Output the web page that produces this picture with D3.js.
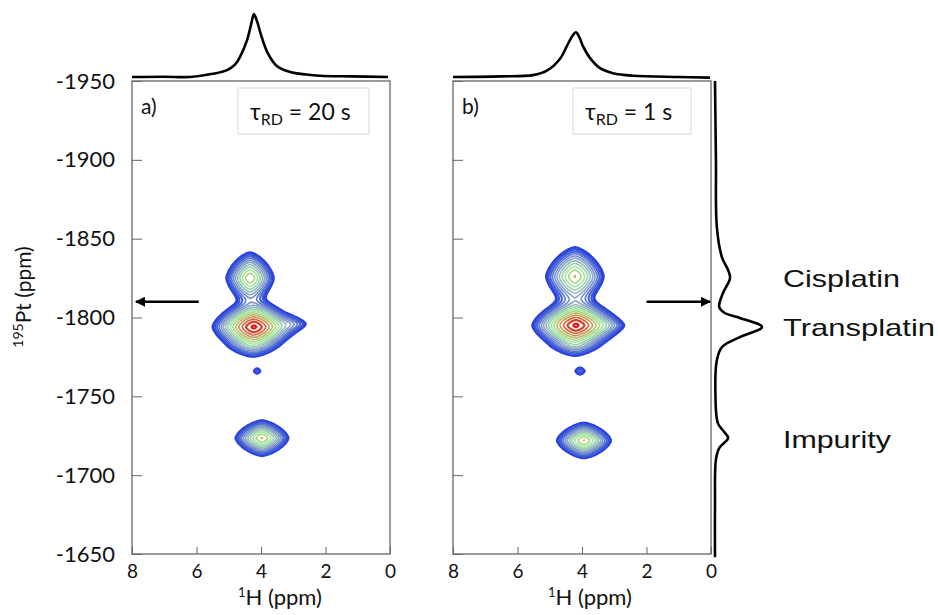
<!DOCTYPE html>
<html>
<head>
<meta charset="utf-8">
<script src="https://cdn.jsdelivr.net/npm/d3@7"></script>
<style>
  body { margin: 0; background: #fff; }
  text { font-family: Lato, "Open Sans", sans-serif; fill: #111; }
</style>
</head>
<body>
<svg width="938" height="615"></svg>
<script>
var width = 938, height = 615;

// tick labels
var ptTicks = [-1950, -1900, -1850, -1800, -1750, -1700, -1650];
var hTicks = [8, 6, 4, 2, 0];

// 2D peaks: [1H ppm, 195Pt ppm, height, 1H width, 195Pt width]
var peaksA = [
  [4.22, -1794, 1.00, 0.55, 7.5],   // transplatin
  [3.10, -1796, 0.06, 0.50, 4.0],   // transplatin, right tail
  [4.30, -1782, 0.05, 0.50, 5.0],   // transplatin, lower bulge
  [4.34, -1825, 0.34, 0.40, 8.9],   // cisplatin
  [3.97, -1723.5, 0.36, 0.44, 6.0], // impurity
  [4.12, -1766, 0.045, 0.15, 2.5]   // small spot
];
var peaksB = [
  [4.19, -1795, 1.00, 0.58, 7.5],
  [3.30, -1795, 0.05, 0.50, 4.0],
  [4.25, -1782, 0.05, 0.50, 5.0],
  [4.22, -1826, 0.36, 0.48, 10.0],
  [3.94, -1722, 0.36, 0.45, 6.0],
  [4.06, -1766, 0.05, 0.20, 3.0]
];
var contourLevels = [0.030, 0.038, 0.049, 0.063, 0.081, 0.103, 0.132, 0.169, 0.217, 0.277,
                     0.355, 0.455, 0.582, 0.745, 0.953];

// 1H projections on top: [ppm, intensity]
var topA = [[8.0, 0.0], [7.0, 0.005], [6.2, 0.0], [5.5, 0.05], [5.05, 0.11], [4.8, 0.2], [4.65, 0.32],
  [4.43, 0.59], [4.30, 0.85], [4.22, 1.0], [4.12, 0.88], [4.0, 0.67], [3.81, 0.40], [3.5, 0.17],
  [3.1, 0.08], [2.6, 0.04], [2.17, 0.02], [1.2, 0.01], [0.06, 0.0]];
var topB = [[8.0, 0.0], [6.5, 0.01], [5.52, 0.03], [5.09, 0.10], [4.68, 0.29], [4.47, 0.49],
  [4.3, 0.65], [4.19, 0.71], [4.08, 0.63], [3.97, 0.49], [3.75, 0.30], [3.44, 0.14], [3.04, 0.06],
  [2.42, 0.02], [1.0, 0.0], [0.03, -0.01]];
// 195Pt projection on the right: [ppm, intensity]
var sidePt = [[-1950, 0.0], [-1900, 0.02], [-1857, 0.04], [-1838, 0.15], [-1830, 0.28], [-1825, 0.32],
  [-1815.5, 0.17], [-1806.7, 0.09], [-1803, 0.2], [-1799.7, 0.53], [-1794, 1.0], [-1787.6, 0.53],
  [-1781.3, 0.15], [-1773, 0.04], [-1750, 0.01], [-1733, 0.06], [-1728, 0.18], [-1723.6, 0.28],
  [-1717.2, 0.09], [-1710, 0.02], [-1680, 0.0], [-1648, 0.0]];

var compounds = ["Cisplatin", "Transplatin", "Impurity"];
var compoundPt = [-1825, -1794, -1723];
var compoundWidth = [117, 152, 108];

var svg = d3.select("svg").attr("width", width).attr("height", height);

var y = d3.scaleLinear().domain([-1950, -1650]).range([81, 554]);
var xA = d3.scaleLinear().domain([8, 0]).range([132, 390]);
var xB = d3.scaleLinear().domain([8, 0]).range([453, 711]);
var topY = d3.scaleLinear().domain([0, 1]).range([77, 14]);
var sideX = d3.scaleLinear().domain([0, 1]).range([715, 762]);

var color = d3.scaleLinear()
    .domain([0, 2, 5, 8, 9.5, 11, 12, 14])
    .range(["#2a40e0", "#4a66d6", "#8aa4c6", "#a0e89c", "#b4cc74", "#c49a58", "#d4643a", "#e61414"]);

function drawPanel(x, peaks, top1d, label, tau, boxX, boxW, showLabels) {
  var x0 = x.range()[0], y0 = y.range()[0];
  var nx = Math.round(x.range()[1] - x0) + 1, ny = Math.round(y.range()[1] - y0) + 1;
  var values = new Float64Array(nx * ny);
  for (var j = 0; j < ny; j++) {
    var pt = y.invert(y0 + j);
    for (var i = 0; i < nx; i++) {
      var h = x.invert(x0 + i), s = 0;
      peaks.forEach(function(p) {
        var u = Math.abs((h - p[0]) / p[3]), v = Math.abs((pt - p[1]) / p[4]);
        s += p[2] * Math.exp(-(Math.pow(u, 1.5) + Math.pow(v, 1.5)));
      });
      values[j * nx + i] = s;
    }
  }
  var contours = d3.contours().size([nx, ny]).thresholds(contourLevels)(values);
  var path = d3.geoPath(d3.geoIdentity().translate([x0 - 0.5, y0 - 0.5]));

  var g = svg.append("g");

  // frame
  g.append("rect")
      .attr("x", x0).attr("y", y0)
      .attr("width", x.range()[1] - x0).attr("height", y.range()[1] - y0)
      .style("fill", "none").style("stroke", "#666").style("stroke-width", 1.3);

  g.append("g").selectAll("path")
    .data(contours)
    .enter().append("path")
      .attr("d", path)
      .style("fill", "none")
      .style("stroke", function(d, i) { return color(i); })
      .style("stroke-width", function(d, i) { return i == 0 ? 3 : i < 3 ? 2.2 : i > 12 ? 2.2 : 1.6; })
      .style("stroke-linejoin", "round");

  // axes with inward ticks
  var gy = g.append("g")
      .attr("transform", "translate(" + x0 + ",0)")
      .call(d3.axisLeft(y).tickValues(ptTicks).tickSize(-10).tickPadding(17)
        .tickFormat(showLabels ? function(d) { return String(d); } : ""));
  gy.select(".domain").remove();
  gy.selectAll("line").style("stroke", "#666");
  gy.selectAll("text").style("font-family", "Lato").style("font-size", "22px").style("fill", "#111");

  var gx = g.append("g")
      .attr("transform", "translate(0," + y.range()[1] + ")")
      .call(d3.axisBottom(x).tickValues(hTicks).tickSize(-7).tickPadding(11)
        .tickFormat(function(d) { return String(d); }));
  gx.select(".domain").remove();
  gx.selectAll("line").style("stroke", "#666");
  gx.selectAll("text").style("font-family", "Lato").style("font-size", "19px").style("fill", "#111");

  // panel letter
  g.append("text").attr("x", x0 + 9).attr("y", 114).style("font-size", "21px").text(label);

  // relaxation delay box
  g.append("rect").attr("x", boxX).attr("y", 88).attr("width", boxW).attr("height", 46)
      .style("fill", "#fff").style("stroke", "#d9d9d9").style("stroke-width", 1);
  var t = g.append("text").attr("x", boxX + 12).attr("y", 120).style("font-size", "23px");
  t.append("tspan").text("τ");
  t.append("tspan").attr("dy", 5).style("font-size", "16px").text("RD");
  t.append("tspan").attr("dy", -5).text(" = " + tau + " s");

  // top projection
  var top = d3.line().x(function(d) { return x(d[0]); }).y(function(d) { return topY(d[1]); })
      .curve(d3.curveCatmullRom.alpha(0.5));
  g.append("path").datum(top1d).attr("d", top)
      .style("fill", "none").style("stroke", "#000").style("stroke-width", 2.6);
}

drawPanel(xA, peaksA, topA, "a)", 20, 238, 131, true);
drawPanel(xB, peaksB, topB, "b)", 1, 573, 118, false);

// x axis titles
[[238, 605], [548, 605]].forEach(function(p) {
  var t = svg.append("text").attr("x", p[0]).attr("y", p[1]).style("font-size", "22px");
  t.append("tspan").attr("dy", -8).style("font-size", "13px").text("1");
  t.append("tspan").attr("dy", 8).text("H (ppm)");
});

// y axis title
var yt = svg.append("text")
    .attr("transform", "translate(31," + 297 + ") rotate(-90)")
    .attr("text-anchor", "middle")
    .style("font-size", "21px");
yt.append("tspan").attr("dy", -8).style("font-size", "14px").text("195");
yt.append("tspan").attr("dy", 8).text("Pt (ppm)");

// arrows
var defs = svg.append("defs");
defs.append("marker").attr("id", "head").attr("viewBox", "0 0 10 10")
    .attr("refX", 9).attr("refY", 5).attr("markerWidth", 4).attr("markerHeight", 4)
    .attr("orient", "auto")
  .append("path").attr("d", "M0,0L10,5L0,10z").style("fill", "#000");
var arrowPt = -1810;
svg.append("line").attr("x1", xA(5.93)).attr("x2", xA(7.88)).attr("y1", y(arrowPt)).attr("y2", y(arrowPt))
    .style("stroke", "#000").style("stroke-width", 2.6).attr("marker-end", "url(#head)");
svg.append("line").attr("x1", xB(2.0)).attr("x2", xB(0.03)).attr("y1", y(arrowPt)).attr("y2", y(arrowPt))
    .style("stroke", "#000").style("stroke-width", 2.6).attr("marker-end", "url(#head)");

// right projection
var side = d3.line().x(function(d) { return sideX(d[1]); }).y(function(d) { return y(d[0]); })
    .curve(d3.curveCatmullRom.alpha(0.5));
svg.append("path").datum(sidePt).attr("d", side)
    .style("fill", "none").style("stroke", "#000").style("stroke-width", 2.6);

// compound labels
svg.selectAll(".cmp").data(compounds).enter().append("text")
    .attr("class", "cmp")
    .attr("x", 783)
    .attr("y", function(d, i) { return y(compoundPt[i]) + 9; })
    .attr("textLength", function(d, i) { return compoundWidth[i]; })
    .attr("lengthAdjust", "spacingAndGlyphs")
    .style("font-family", "'Liberation Sans', Arial, sans-serif")
    .style("font-size", "24px")
    .text(function(d) { return d; });
</script>
</body>
</html>
